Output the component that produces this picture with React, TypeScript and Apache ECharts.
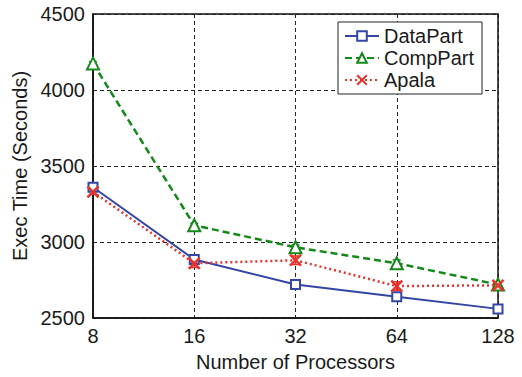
import React, { useEffect, useRef } from "react";
import * as echarts from "echarts";

const processors = ["8", "16", "32", "64", "128"];
const dataPart = [3360, 2885, 2720, 2640, 2560];
const compPart = [4175, 3110, 2965, 2860, 2720];
const apala = [3330, 2860, 2880, 2710, 2715];
const dataPartErr = [10, 15, 10, 12, 10];
const compPartErr = [10, 12, 15, 22, 10];
const apalaErr = [15, 28, 28, 28, 18];
const yTicks = { min: 2500, max: 4500, interval: 500 };

const BLUE = "#3346a6";
const GREEN = "#14891a";
const RED = "#e8322c";
const FONT = "Liberation Sans";

function errSeries(name: string, vals: number[], errs: number[], color: string) {
  return {
    type: "custom",
    name: name + "-err",
    silent: true,
    z: 3,
    data: vals.map((v, i) => [i, v - errs[i], v + errs[i]]),
    renderItem: (params: any, api: any) => {
      const lo = api.coord([api.value(0), api.value(1)]);
      const hi = api.coord([api.value(0), api.value(2)]);
      const w = 4;
      const style = { stroke: color, lineWidth: 1.5 };
      return {
        type: "group",
        children: [
          { type: "line", shape: { x1: lo[0], y1: lo[1], x2: hi[0], y2: hi[1] }, style },
          { type: "line", shape: { x1: lo[0] - w, y1: lo[1], x2: lo[0] + w, y2: lo[1] }, style },
          { type: "line", shape: { x1: hi[0] - w, y1: hi[1], x2: hi[0] + w, y2: hi[1] }, style },
        ],
      };
    },
  };
}

export default function App() {
  const ref = useRef<HTMLDivElement>(null);
  useEffect(() => {
    if (!ref.current) return;
    const chart = echarts.init(ref.current, undefined, { renderer: "svg" });
    chart.setOption({
      animation: false,
      backgroundColor: "#fff",
      textStyle: { fontFamily: FONT },
      grid: {
        left: 93,
        right: 24,
        top: 14,
        bottom: 55,
        show: true,
        borderColor: "#111",
        borderWidth: 1.5,
        backgroundColor: "transparent",
      },
      legend: {
        orient: "vertical",
        left: 338,
        top: 22,
        backgroundColor: "#fff",
        borderColor: "#222",
        borderWidth: 1,
        borderRadius: 0,
        padding: [4, 8, 4, 6],
        itemGap: 2,
        itemWidth: 34,
        itemHeight: 12,
        textStyle: { fontFamily: FONT, fontSize: 20, color: "#1a1a1a", lineHeight: 20 },
        data: ["DataPart", "CompPart", "Apala"],
      },
      xAxis: {
        type: "category",
        data: processors,
        boundaryGap: false,
        name: "Number of Processors",
        nameLocation: "middle",
        nameGap: 34,
        nameTextStyle: { fontFamily: FONT, fontSize: 20, color: "#1a1a1a" },
        axisLine: { lineStyle: { color: "#111", width: 1.5 } },
        axisTick: { show: false },
        axisLabel: { fontFamily: FONT, fontSize: 20, color: "#1a1a1a", margin: 8 },
        splitLine: { show: true, lineStyle: { color: "#222", type: [4, 3], width: 1 } },
      },
      yAxis: {
        type: "value",
        min: yTicks.min,
        max: yTicks.max,
        interval: yTicks.interval,
        name: "Exec Time (Seconds)",
        nameLocation: "middle",
        nameGap: 62,
        nameTextStyle: { fontFamily: FONT, fontSize: 20, color: "#1a1a1a" },
        axisLine: { show: true, lineStyle: { color: "#111", width: 1.5 } },
        axisTick: { show: false },
        axisLabel: {
          fontFamily: FONT,
          fontSize: 20,
          color: "#1a1a1a",
          margin: 8,
          formatter: (v: number) => String(v),
        },
        splitLine: { show: true, lineStyle: { color: "#222", type: [4, 3], width: 1 } },
      },
      series: [
        errSeries("DataPart", dataPart, dataPartErr, BLUE),
        errSeries("CompPart", compPart, compPartErr, GREEN),
        errSeries("Apala", apala, apalaErr, RED),
        {
          name: "DataPart",
          type: "line",
          data: dataPart,
          symbol: "emptyRect",
          symbolSize: 9,
          lineStyle: { color: BLUE, width: 2 },
          itemStyle: { color: BLUE, borderColor: BLUE, borderWidth: 2 },
          z: 4,
        },
        {
          name: "CompPart",
          type: "line",
          data: compPart,
          symbol: "emptyTriangle",
          symbolSize: 12,
          lineStyle: { color: GREEN, width: 2.5, type: [7, 4] },
          itemStyle: { color: GREEN, borderColor: GREEN, borderWidth: 2 },
          z: 5,
        },
        {
          name: "Apala",
          type: "line",
          data: apala,
          symbol: "path://M0,0L10,10M10,0L0,10",
          symbolSize: 11,
          lineStyle: { color: RED, width: 2.5, type: [2, 3] },
          itemStyle: { color: RED, borderColor: RED, borderWidth: 2.5 },
          z: 6,
        },
      ],
    });
    return () => chart.dispose();
  }, []);
  return (
    <div
      ref={ref}
      style={{ position: "fixed", left: 0, top: 0, width: 522, height: 377 }}
    />
  );
}
